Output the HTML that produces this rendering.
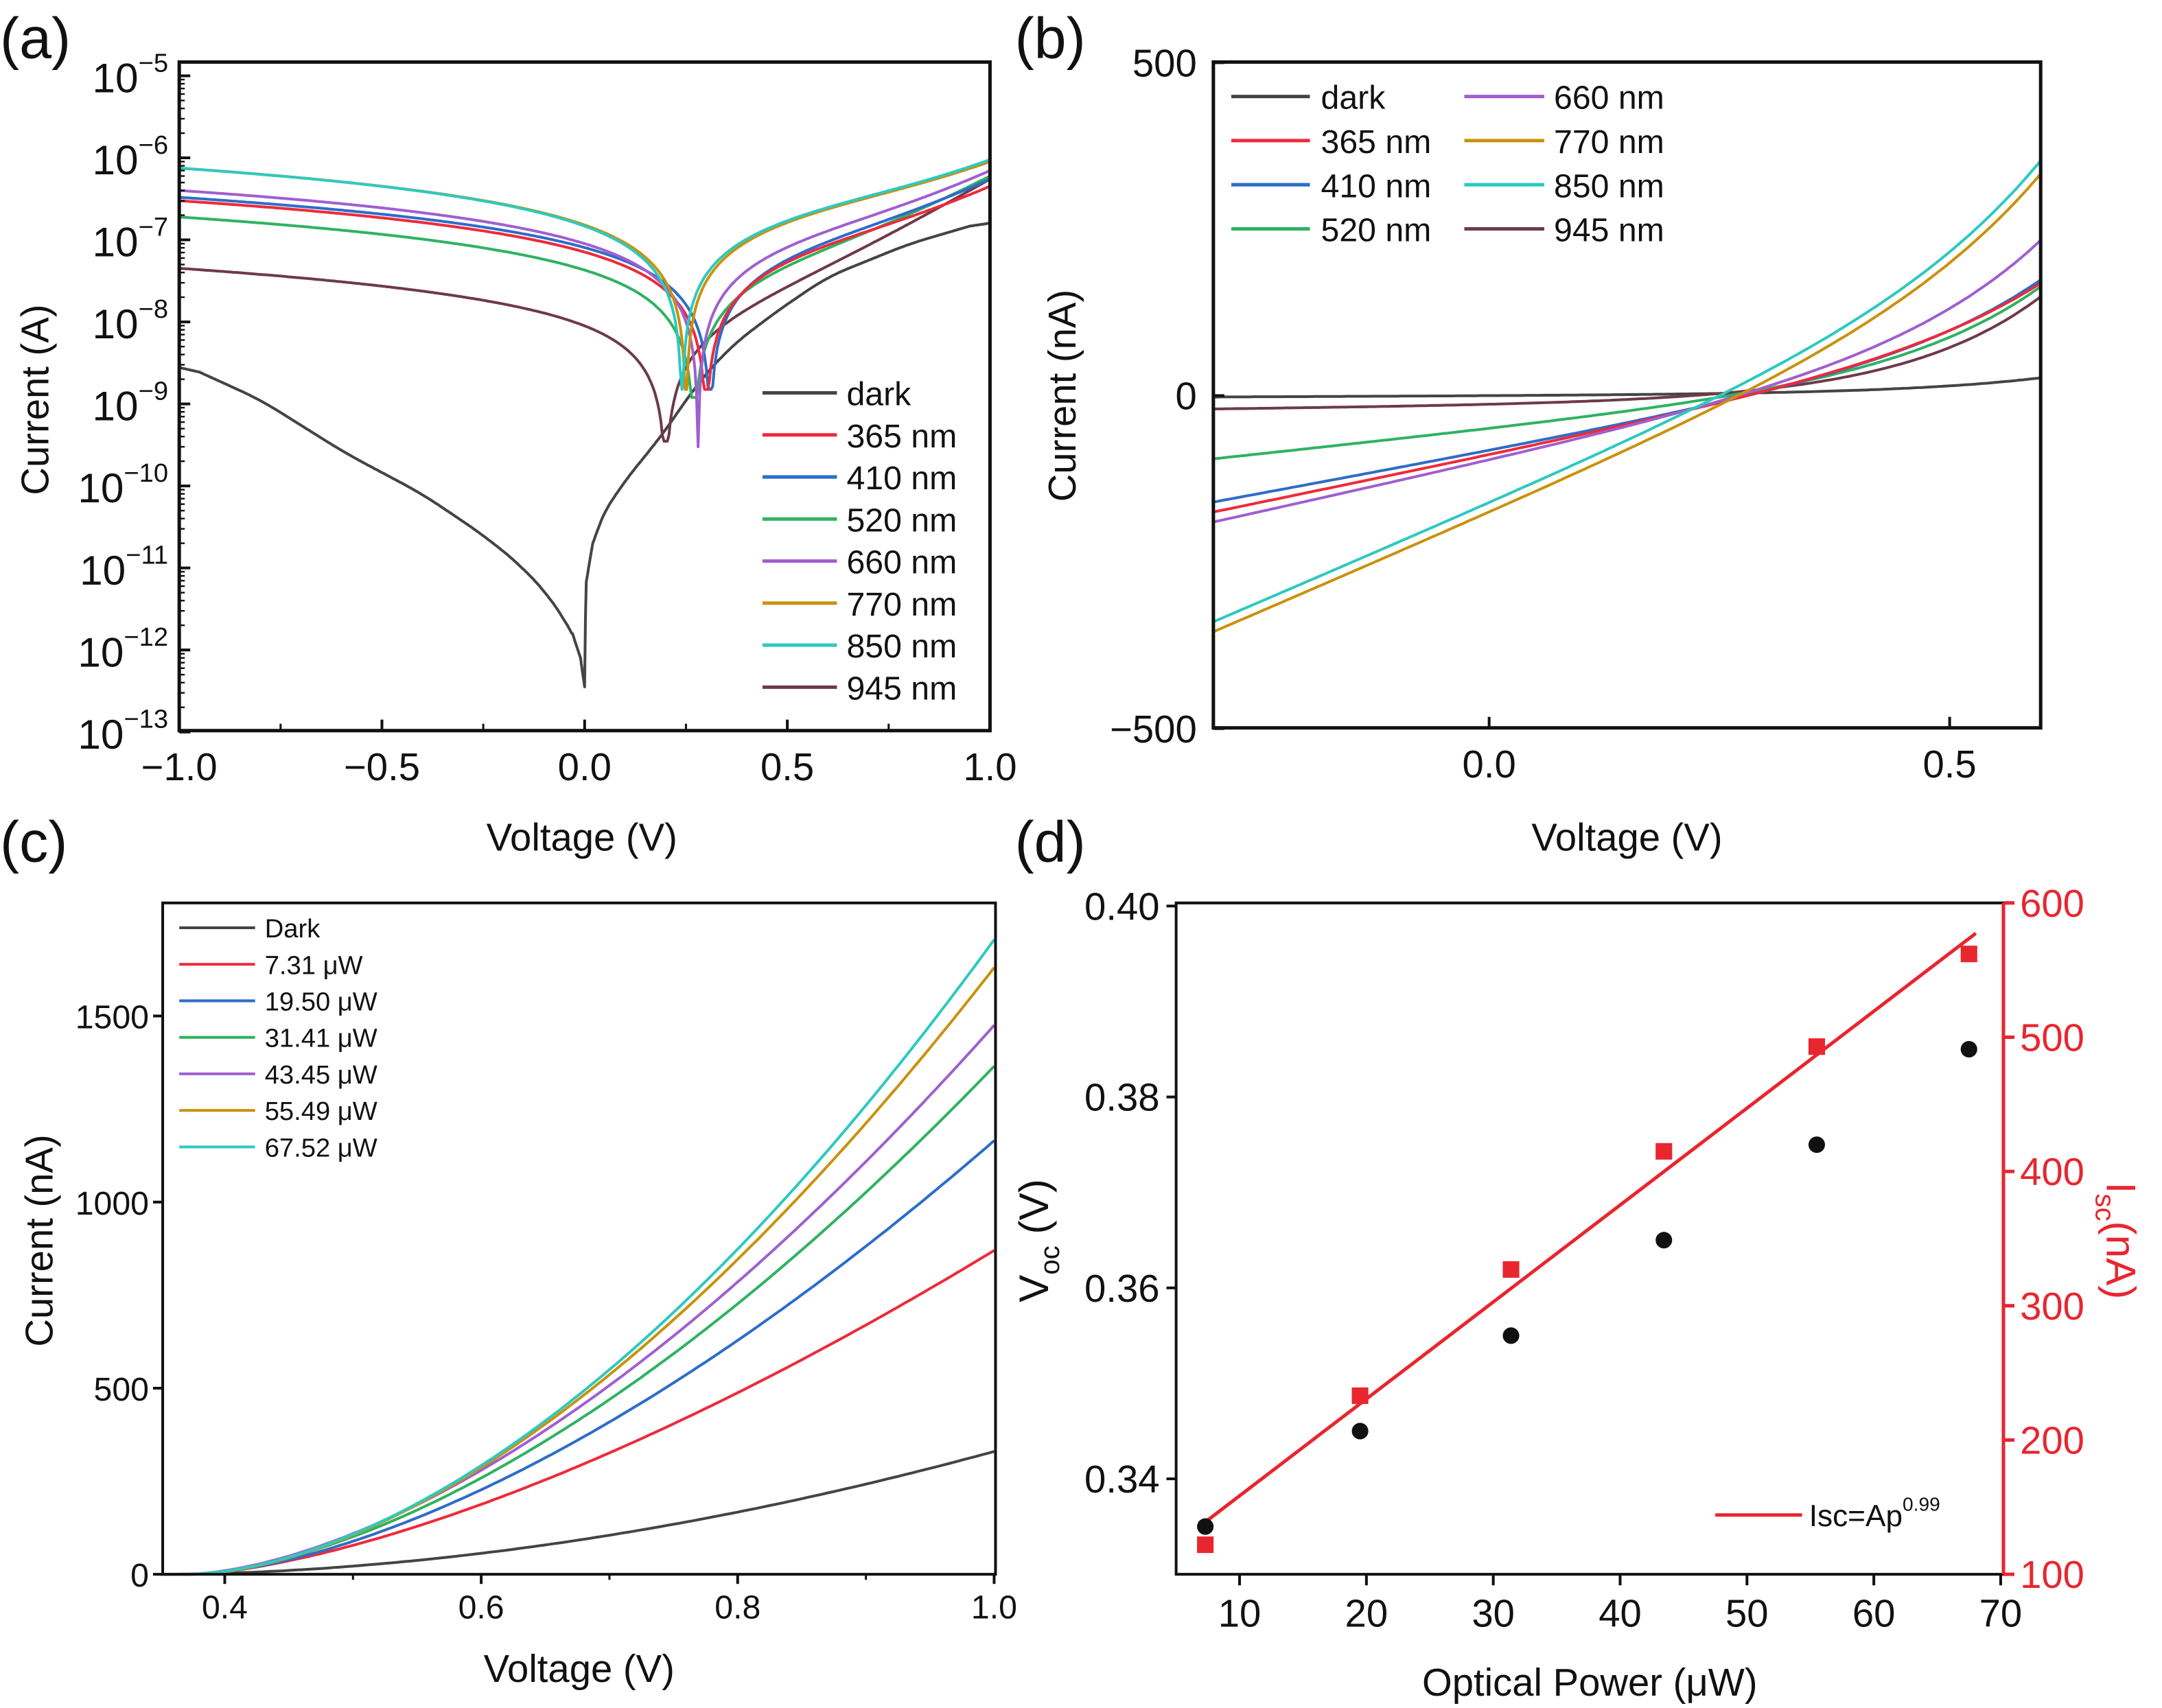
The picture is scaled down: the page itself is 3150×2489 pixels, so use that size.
<!DOCTYPE html>
<html><head><meta charset="utf-8">
<style>html,body{margin:0;padding:0;background:#fff}svg{display:block}</style>
</head><body>
<svg id="s" xmlns="http://www.w3.org/2000/svg" width="3150" height="2489" viewBox="0 0 1568 1239" preserveAspectRatio="none" font-family="Liberation Sans, Arial, sans-serif">
<rect width="1568" height="1239" fill="#fff"/>
<g id="g"></g>
</svg>
<script>
const g=document.getElementById('g');let h='';
function add(s){h+=s;}
function txt(x,y,t,sz,anch,col,extra){add(`<text x="${x}" y="${y}" font-size="${sz}" text-anchor="${anch||'middle'}" fill="${col||'#111'}" ${extra||''}>${t}</text>`);}
function path(pts,col,w){add(`<path d="M${pts.map(p=>p[0].toFixed(1)+','+p[1].toFixed(1)).join('L')}" fill="none" stroke="${col}" stroke-width="${w||2}" stroke-linejoin="round"/>`);}
const C={dark:'#444',r:'#ee2a3a',b:'#2e6cc9',gr:'#2fb262',p:'#a05fd0',o:'#c9920e',c:'#2ec9c0',br:'#6e3a48'};
function model(L,R,Voc,a,vl,vr){const dl=Voc-vl,dr=vr-Voc;const E=Math.exp(dr/a)-1,El=1-Math.exp(-dl/a);
 const B=(R-dr*L/dl)/(E-dr*El/dl);const gg=(L-B*El)/dl;return V=>gg*(V-Voc)+B*(Math.exp((V-Voc)/a)-1);}
function interp(kn,v){for(let i=0;i<kn.length-1;i++){if(v<=kn[i+1][0]){const t=(v-kn[i][0])/(kn[i+1][0]-kn[i][0]);return kn[i][1]+t*(kn[i+1][1]-kn[i][1]);}}return kn[kn.length-1][1];}
// Panel (a)
{const x0=130,x1=718,y0=45,y1=530;const X=v=>x0+(v+1)/2*(x1-x0);const Y=l=>55+(-5-l)*59.5;
 const dk=[[-1,-8.5],[-0.8,-8.95],[-0.59,-9.6],[-0.4,-10.1],[-0.25,-10.6],[-0.15,-11.0],[-0.08,-11.4],[-0.03,-11.8],[-0.01,-12.1],[0,-12.45],[0.003,-11.2],[0.02,-10.7],[0.05,-10.3],[0.12,-9.8],[0.19,-9.4],[0.27,-8.8],[0.36,-8.3],[0.48,-7.85],[0.6,-7.45],[0.8,-7.05],[1.0,-6.76]];
 {const vs=[],ls=[];for(let v=-1;v<=1.0001;v+=0.002){vs.push(v);ls.push(interp(dk,v));}
  const sm=ls.map((l,i)=>{const v=vs[i];const w=Math.abs(v)<0.03?0:Math.min(25,Math.floor(Math.abs(v)/0.002/3));let s=0,n=0;for(let j=i-w;j<=i+w;j++){if(j>=0&&j<ls.length){s+=ls[j];n++;}}return s/n;});
  path(vs.map((v,i)=>[X(v),Y(sm[i])]),C.dark,2);}
 const cs=[[C.br,4.5e-8,5.5e-7,0.2,0.15,3.5e-10],[C.gr,1.9e-7,6e-7,0.27,0.15,1.2e-9],[C.b,3.3e-7,5.5e-7,0.31,0.15,1.5e-9],[C.r,3e-7,4.5e-7,0.3,0.15,1.5e-9],[C.p,4e-7,7e-7,0.28,0.15,3e-10],[C.o,7.5e-7,9e-7,0.25,0.15,1.5e-9],[C.c,7.5e-7,9.5e-7,0.24,0.15,1.5e-9]];
 for(const c of cs){const f=model(c[1],c[2],c[3],c[4],-1,1);const pts=[];
  for(let v=-1;v<=1.0001;v+=0.004){let I=Math.abs(f(v));if(Math.abs(v-c[3])<0.003)I=c[5];I=Math.max(I,c[5]);pts.push([X(v),Y(Math.log10(I))]);}
  path(pts,c[0],2);}
 add(`<rect x="${x0}" y="${y0}" width="${x1-x0}" height="${y1-y0}" fill="none" stroke="#111" stroke-width="2.5"/>`);
 for(let e=-5;e>=-13;e--){const y=Y(e);add(`<line x1="${x0}" x2="${x0+8}" y1="${y}" y2="${y}" stroke="#111" stroke-width="2"/>`);
  for(let k=2;k<10&&e>-13;k++){const yy=Y(e-1+Math.log10(k));add(`<line x1="${x0}" x2="${x0+4}" y1="${yy}" y2="${yy}" stroke="#111" stroke-width="1.2"/>`);}
  add(`<text x="${x0-8}" y="${y+12}" font-size="30" text-anchor="end" fill="#111">10<tspan dy="-15" font-size="19">−${-e}</tspan></text>`);}
 for(let v=-1;v<=1.001;v+=0.5){const x=X(v);add(`<line x1="${x}" x2="${x}" y1="${y1}" y2="${y1-8}" stroke="#111" stroke-width="2"/>`);txt(x,y1+36,(v<0?'−':'')+Math.abs(v).toFixed(1),28);}
 for(let v=-0.75;v<1;v+=0.5){const x=X(v);add(`<line x1="${x}" x2="${x}" y1="${y1}" y2="${y1-5}" stroke="#111" stroke-width="1.5"/>`);}
 txt(422,617,'Voltage (V)',28);txt(35,290,'Current (A)',28,'middle','#111','transform="rotate(-90 35 290)"');
 const lg=[['dark',C.dark],['365 nm',C.r],['410 nm',C.b],['520 nm',C.gr],['660 nm',C.p],['770 nm',C.o],['850 nm',C.c],['945 nm',C.br]];
 lg.forEach((l,i)=>{const y=285+i*30.5;add(`<line x1="553" x2="607" y1="${y}" y2="${y}" stroke="${l[1]}" stroke-width="2.5"/>`);txt(614,y+9,l[0],24,'start');});
 txt(0,42,'(a)',42,'start');}
// Panel (b)
{const x0=880,x1=1480,y0=45,y1=528;const X=v=>1080+v*668;const Y=i=>287-i*0.483;
 const cs=[[C.dark,2,27,0.0],[C.br,20,150,0.22],[C.gr,95,165,0.26],[C.b,160,175,0.28],[C.r,175,170,0.28],[C.p,190,235,0.27],[C.o,355,335,0.27],[C.c,340,355,0.25]];
 for(const c of cs){const f=model(c[1],c[2],c[3],0.15,-0.3,0.6);const pts=[];for(let v=-0.3;v<=0.6001;v+=0.005)pts.push([X(v),Y(f(v))]);path(pts,c[0],2);}
 add(`<rect x="${x0}" y="${y0}" width="${x1-x0}" height="${y1-y0}" fill="none" stroke="#111" stroke-width="2.5"/>`);
 [[500,'500'],[0,'0'],[-500,'−500']].forEach(t=>{const y=Y(t[0]);add(`<line x1="${x0}" x2="${x0+8}" y1="${y}" y2="${y}" stroke="#111" stroke-width="2"/>`);txt(x0-12,y+10,t[1],28,'end');});
 [[0,'0.0'],[0.5,'0.5']].forEach(t=>{const x=X(t[0]);add(`<line x1="${x}" x2="${x}" y1="${y1}" y2="${y1-8}" stroke="#111" stroke-width="2"/>`);txt(x,y1+36,t[1],28);});
 txt(1180,617,'Voltage (V)',28);txt(780,287,'Current (nA)',28,'middle','#111','transform="rotate(-90 780 287)"');
 const l1=[['dark',C.dark],['365 nm',C.r],['410 nm',C.b],['520 nm',C.gr]],l2=[['660 nm',C.p],['770 nm',C.o],['850 nm',C.c],['945 nm',C.br]];
 l1.forEach((l,i)=>{const y=70+i*32;add(`<line x1="893" x2="950" y1="${y}" y2="${y}" stroke="${l[1]}" stroke-width="2.5"/>`);txt(958,y+9,l[0],24,'start');});
 l2.forEach((l,i)=>{const y=70+i*32;add(`<line x1="1062" x2="1120" y1="${y}" y2="${y}" stroke="${l[1]}" stroke-width="2.5"/>`);txt(1127,y+9,l[0],24,'start');});
 txt(736,42,'(b)',42,'start');}
// Panel (c)
{const x0=118,x1=722,y0=655,y1=1142;const X=v=>163+(v-0.4)*930;const Y=i=>1142-i*0.27;
 const cs=[[C.dark,330,0.35,1.85],[C.r,870,0.375,1.5],[C.b,1165,0.375,1.6],[C.gr,1365,0.37,1.65],[C.p,1475,0.37,1.65],[C.o,1630,0.375,1.7],[C.c,1705,0.37,1.75]];
 for(const c of cs){const pts=[];for(let v=0.35;v<=1.0001;v+=0.005){const t=Math.max(0,(v-c[2])/(1-c[2]));pts.push([X(v),Y(c[1]*Math.pow(t,c[3]))]);}path(pts,c[0],2);}
 add(`<rect x="${x0}" y="${y0}" width="${x1-x0}" height="${y1-y0}" fill="none" stroke="#111" stroke-width="2"/>`);
 [0,500,1000,1500].forEach(t=>{const y=Y(t);add(`<line x1="${x0}" x2="${x0-7}" y1="${y}" y2="${y}" stroke="#111" stroke-width="2"/>`);txt(x0-10,y+9,t,24,'end');});
 for(let v=0.4;v<=1.001;v+=0.2){const x=X(v);add(`<line x1="${x}" x2="${x}" y1="${y1}" y2="${y1+7}" stroke="#111" stroke-width="2"/>`);txt(x,y1+32,v.toFixed(1),24);}
 for(let v=0.5;v<1;v+=0.2){const x=X(v);add(`<line x1="${x}" x2="${x}" y1="${y1}" y2="${y1+4}" stroke="#111" stroke-width="1.5"/>`);}
 txt(420,1220,'Voltage (V)',28);txt(38,900,'Current (nA)',28,'middle','#111','transform="rotate(-90 38 900)"');
 const lg=[['Dark',C.dark],['7.31 μW',C.r],['19.50 μW',C.b],['31.41 μW',C.gr],['43.45 μW',C.p],['55.49 μW',C.o],['67.52 μW',C.c]];
 lg.forEach((l,i)=>{const y=673+i*26.5;add(`<line x1="130" x2="185" y1="${y}" y2="${y}" stroke="${l[1]}" stroke-width="2"/>`);txt(192,y+7,l[0],19,'start');});
 txt(0,625,'(c)',42,'start');}
// Panel (d)
{const x0=853,x1=1453,y0=655,y1=1142;const X=p=>853+(p-5)*9.2;const YL=v=>1142-(v-0.33)*6925;const YR=i=>1142-(i-100)*0.974;
 add(`<line x1="869" y1="1108" x2="1433" y2="677" stroke="#e8262f" stroke-width="2.5"/>`);
 [[7.3,0.335],[19.5,0.345],[31.4,0.355],[43.45,0.365],[55.5,0.375],[67.5,0.385]].forEach(d=>add(`<circle cx="${X(d[0])}" cy="${YL(d[1])}" r="6" fill="#111"/>`));
 [[7.3,122],[19.5,233],[31.4,327],[43.45,415],[55.5,493],[67.5,562]].forEach(d=>add(`<rect x="${X(d[0])-6}" y="${YR(d[1])-6}" width="12" height="12" fill="#e8262f"/>`));
 add(`<path d="M${x1},${y0}L${x0},${y0}L${x0},${y1}L${x1},${y1}" fill="none" stroke="#111" stroke-width="2"/>`);
 add(`<line x1="${x1}" x2="${x1}" y1="${y0}" y2="${y1}" stroke="#e8262f" stroke-width="2.5"/>`);
 [0.34,0.36,0.38,0.40].forEach(v=>{const y=YL(v);add(`<line x1="${x0}" x2="${x0-7}" y1="${y}" y2="${y}" stroke="#111" stroke-width="2"/>`);txt(x0-12,y+10,v.toFixed(2),28,'end');});
 [100,200,300,400,500,600].forEach(v=>{const y=YR(v);add(`<line x1="${x1}" x2="${x1+8}" y1="${y}" y2="${y}" stroke="#e8262f" stroke-width="2.5"/>`);txt(x1+12,y+10,v,28,'start','#e8262f');});
 for(let p=10;p<=70;p+=10){const x=X(p);add(`<line x1="${x}" x2="${x}" y1="${y1}" y2="${y1+8}" stroke="#111" stroke-width="2"/>`);txt(x,y1+38,p,28);}
 txt(1153,1230,'Optical Power (μW)',28);
 add(`<text x="0" y="0" font-size="30" fill="#111" text-anchor="middle" transform="translate(760 900) rotate(-90)">V<tspan font-size="20" dy="8">oc</tspan><tspan dy="-8"> (V)</tspan></text>`);
 add(`<text x="0" y="0" font-size="30" fill="#e8262f" text-anchor="middle" transform="translate(1528 900) rotate(90)">I<tspan font-size="20" dy="8">sc</tspan><tspan dy="-8">(nA)</tspan></text>`);
 add(`<line x1="1244" x2="1307" y1="1099" y2="1099" stroke="#e8262f" stroke-width="2.5"/>`);
 add(`<text x="1312" y="1107" font-size="22" fill="#111">Isc=Ap<tspan font-size="14" dy="-11">0.99</tspan></text>`);
 txt(736,625,'(d)',42,'start');}
g.innerHTML=h;
</script>
</body></html>
